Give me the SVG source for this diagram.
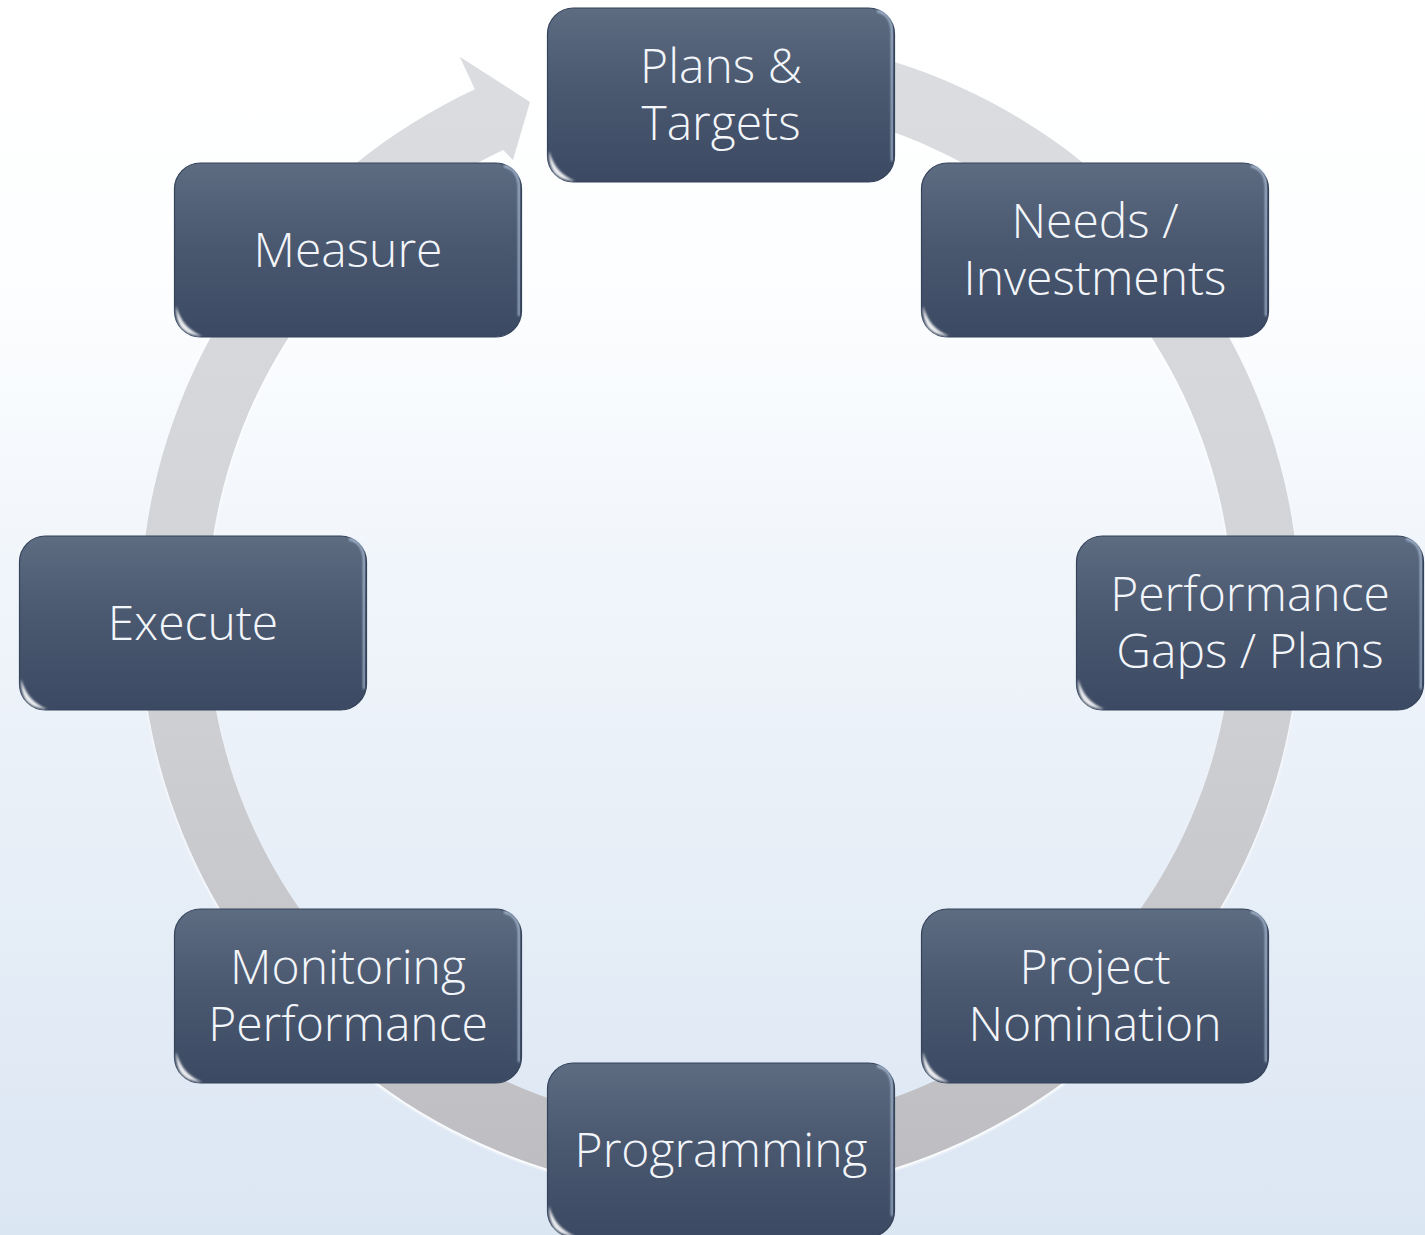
<svg xmlns="http://www.w3.org/2000/svg" xmlns:xlink="http://www.w3.org/1999/xlink" width="1425" height="1235" viewBox="0 0 1425 1235">
  <defs>
    <linearGradient id="bgGrad" x1="0" y1="0" x2="0" y2="1">
      <stop offset="0" stop-color="#ffffff"/>
      <stop offset="0.22" stop-color="#fdfeff"/>
      <stop offset="0.5" stop-color="#eff4fa"/>
      <stop offset="1" stop-color="#dbe6f3"/>
    </linearGradient>
    <linearGradient id="ringGrad" gradientUnits="userSpaceOnUse" x1="0" y1="35" x2="0" y2="1195">
      <stop offset="0" stop-color="#dcdde1"/>
      <stop offset="0.5" stop-color="#d2d3d7"/>
      <stop offset="1" stop-color="#bdbdc1"/>
    </linearGradient>
    <linearGradient id="boxGrad" x1="0" y1="0" x2="0" y2="1">
      <stop offset="0" stop-color="#5e6c82"/>
      <stop offset="0.45" stop-color="#4a5870"/>
      <stop offset="1" stop-color="#3b4962"/>
    </linearGradient>
    <linearGradient id="hlGrad" x1="0" y1="0" x2="1" y2="0">
      <stop offset="0" stop-color="#c8d2de" stop-opacity="0"/>
      <stop offset="0.12" stop-color="#ccd6e2" stop-opacity="0.85"/>
      <stop offset="0.88" stop-color="#ccd6e2" stop-opacity="0.85"/>
      <stop offset="1" stop-color="#c8d2de" stop-opacity="0"/>
    </linearGradient>
    <filter id="soft" x="-20%" y="-20%" width="140%" height="140%">
      <feGaussianBlur stdDeviation="1.2"/>
    </filter>
    <filter id="softer" x="-5%" y="-5%" width="110%" height="110%">
      <feGaussianBlur stdDeviation="0.8"/>
    </filter>
    <g id="box">
      <rect x="-173.5" y="-87" width="347" height="174" rx="26" ry="26" fill="url(#boxGrad)" stroke="#34425a" stroke-width="1.2"/>
      <path d="M -150,-80 L 150,-80" stroke="url(#hlGrad)" stroke-width="4" fill="none" filter="url(#soft)"/>
      <path d="M 156,-84 Q 171,-81 171,-62 L 171,66" stroke="#c6daf2" stroke-opacity="0.85" stroke-width="1.8" fill="none" filter="url(#softer)"/>
      <path d="M -171,-60 L -171,56" stroke="#8f9cb0" stroke-opacity="0.5" stroke-width="1.5" fill="none" filter="url(#softer)"/>
      <path d="M -172,56 C -172,76 -165,85 -146,86 C -160,80 -167,72 -172,56 Z" fill="#ffffff" fill-opacity="0.9" filter="url(#soft)"/>
    </g>
    <style>
      .lbl { font-family: "Open Sans", "Noto Sans", "Liberation Sans", sans-serif; font-weight: 300; font-size: 48px; fill: #f2f5f9; text-anchor: middle; }
    </style>
  </defs>

  <rect x="0" y="0" width="1425" height="1235" fill="url(#bgGrad)"/>

  <g id="connectors">
    <path d="M720,35 A580,580 0 1 1 474.9,89.3 L459.7,56.7 L530,102 L513,160 L503.2,150.1 A513,513 0 1 0 720,102 Z" fill="#ffffff" fill-opacity="0.95" transform="translate(0,2.5)" filter="url(#softer)"/>
    <path d="M720,35 A580,580 0 1 1 474.9,89.3 L459.7,56.7 L530,102 L513,160 L503.2,150.1 A513,513 0 1 0 720,102 Z" fill="url(#ringGrad)"/>
  </g>

  <g id="node-plans">
    <use xlink:href="#box" href="#box" transform="translate(721,95)"/>
    <text class="lbl" x="721" y="83">Plans &amp;</text>
    <text class="lbl" x="721" y="140">Targets</text>
  </g>
  <g id="node-needs">
    <use xlink:href="#box" href="#box" transform="translate(1095,250)"/>
    <text class="lbl" x="1095" y="238">Needs /</text>
    <text class="lbl" x="1095" y="295">Investments</text>
  </g>
  <g id="node-performance-gaps">
    <use xlink:href="#box" href="#box" transform="translate(1250,623)"/>
    <text class="lbl" x="1250" y="611">Performance</text>
    <text class="lbl" x="1250" y="668">Gaps / Plans</text>
  </g>
  <g id="node-project">
    <use xlink:href="#box" href="#box" transform="translate(1095,996)"/>
    <text class="lbl" x="1095" y="984">Project</text>
    <text class="lbl" x="1095" y="1041">Nomination</text>
  </g>
  <g id="node-programming">
    <use xlink:href="#box" href="#box" transform="translate(721,1150)"/>
    <text class="lbl" x="721" y="1167">Programming</text>
  </g>
  <g id="node-monitoring">
    <use xlink:href="#box" href="#box" transform="translate(348,996)"/>
    <text class="lbl" x="348" y="984">Monitoring</text>
    <text class="lbl" x="348" y="1041">Performance</text>
  </g>
  <g id="node-execute">
    <use xlink:href="#box" href="#box" transform="translate(193,623)"/>
    <text class="lbl" x="193" y="640">Execute</text>
  </g>
  <g id="node-measure">
    <use xlink:href="#box" href="#box" transform="translate(348,250)"/>
    <text class="lbl" x="348" y="267">Measure</text>
  </g>
</svg>
